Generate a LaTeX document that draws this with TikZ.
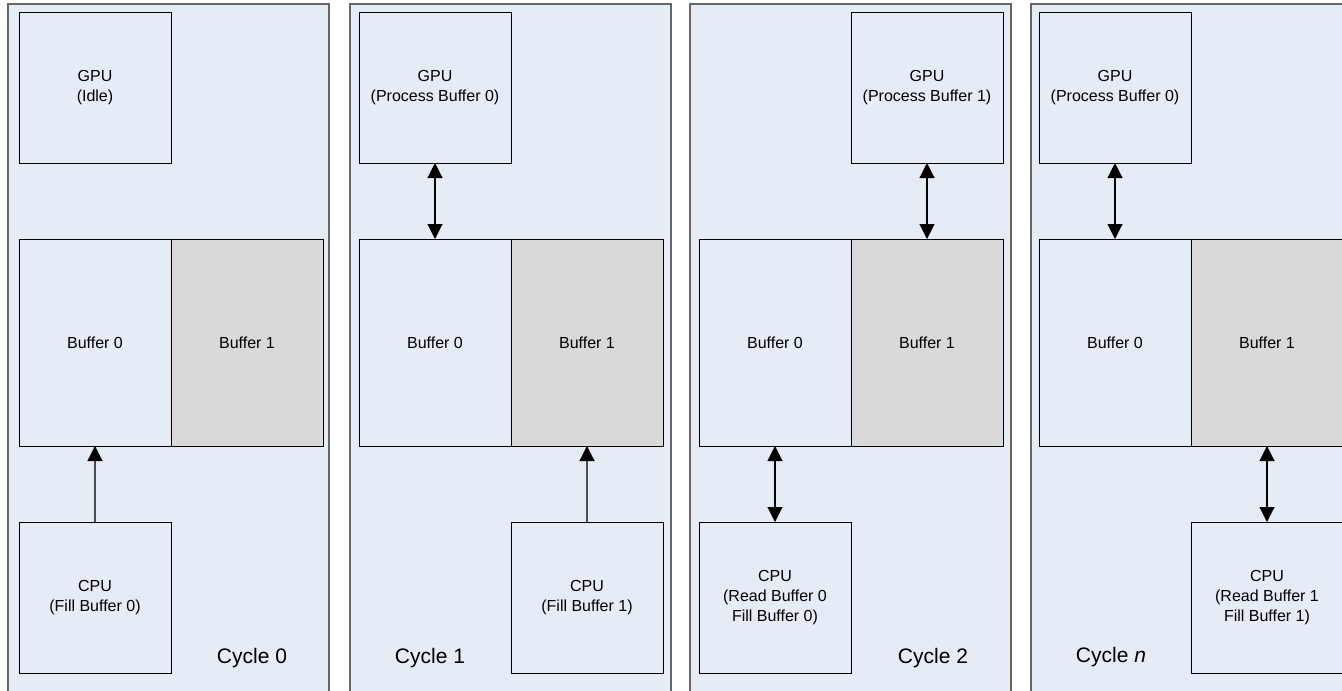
\documentclass[tikz,border=0pt]{standalone}
\usepackage{fontspec}
\setmainfont{Liberation Sans}
\usetikzlibrary{arrows.meta}
\definecolor{panelfill}{HTML}{E6ECF6}
\definecolor{panelline}{HTML}{666666}
\definecolor{buffill}{HTML}{D9D9D9}
\begin{document}
\begin{tikzpicture}[x=1pt,y=-1pt,
  panel/.style={draw=panelline, line width=1.5pt, fill=panelfill},
  unit/.style={draw=black, line width=0.9pt, fill=panelfill, rectangle, inner sep=0pt, outer sep=0pt,
    anchor=north west, minimum width=152pt, minimum height=151pt, align=center,
    font=\fontsize{16}{20}\selectfont},
  bufzero/.style={unit, minimum height=207pt},
  bufone/.style={unit, minimum height=207pt, fill=buffill},
  cyc/.style={font=\fontsize{21}{25}\selectfont, inner sep=0pt},
  tip/.tip={Triangle[length=15pt,width=15pt,color=black]},
  arr/.style={draw=black!70, line width=1.2pt, -tip},
  darr/.style={draw=black, line width=1.1pt, tip-tip}]
\clip (0,0) rectangle (1342,691);
\fill[white] (0,0) rectangle (1342,691);
% panels
\draw[panel] (8,4) rectangle (329,720);
\draw[panel] (350,4) rectangle (671,720);
\draw[panel] (690,4) rectangle (1011,720);
\draw[panel] (1031,4) rectangle (1360,720);
% panel 1
\node[unit] (g0) at (19,12) {GPU\\(Idle)};
\node[bufzero] (b00) at (19,239) {Buffer 0};
\node[bufone] (b10) at (171,239) {Buffer 1};
\node[unit] (c0) at (19,522) {CPU\\(Fill Buffer 0)};
\node[cyc] (cy0) at (252,658) {Cycle 0};
\draw[arr] (c0.north) -- (b00.south);
% panel 2
\node[unit] (g1) at (359,12) {GPU\\(Process Buffer 0)};
\node[bufzero] (b01) at (359,239) {Buffer 0};
\node[bufone] (b11) at (511,239) {Buffer 1};
\node[unit] (c1) at (511,522) {CPU\\(Fill Buffer 1)};
\node[cyc] (cy1) at (430,658) {Cycle 1};
\draw[darr] (g1.south) -- (b01.north);
\draw[arr] (c1.north) -- (b11.south);
% panel 3
\node[unit] (g2) at (851,12) {GPU\\(Process Buffer 1)};
\node[bufzero] (b02) at (699,239) {Buffer 0};
\node[bufone] (b12) at (851,239) {Buffer 1};
\node[unit] (c2) at (699,522) {CPU\\(Read Buffer 0\\Fill Buffer 0)};
\node[cyc] (cy2) at (933,658) {Cycle 2};
\draw[darr] (g2.south) -- (b12.north);
\draw[darr] (b02.south) -- (c2.north);
% panel 4
\node[unit] (g3) at (1039,12) {GPU\\(Process Buffer 0)};
\node[bufzero] (b03) at (1039,239) {Buffer 0};
\node[bufone] (b13) at (1191,239) {Buffer 1};
\node[unit] (c3) at (1191,522) {CPU\\(Read Buffer 1\\Fill Buffer 1)};
\node[cyc] (cy3) at (1111,657) {Cycle \textit{n}};
\draw[darr] (g3.south) -- (b03.north);
\draw[darr] (b13.south) -- (c3.north);
\end{tikzpicture}
\end{document}
